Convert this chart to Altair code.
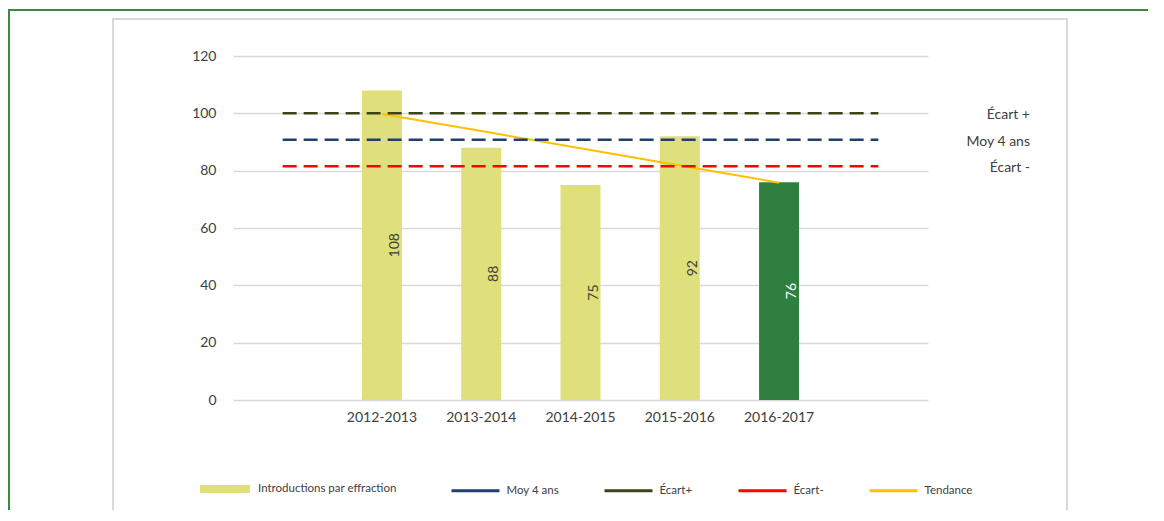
import altair as alt
import pandas as pd

# ---- data ----
categories = ["2012-2013", "2013-2014", "2014-2015", "2015-2016", "2016-2017"]
effractions = [108, 88, 75, 92, 76]
tendance = [99.8, 93.8, 87.8, 81.8, 75.8]
ref_names = ["Moy 4 ans", "Écart+", "Écart-"]
ref_values = [90.75, 100.0, 81.5]
side_labels = ["Moy 4 ans", "Écart +", "Écart -"]
y_ticks = [0, 20, 40, 60, 80, 100, 120]

edge_left, edge_right = " ", "  "
x_domain = [edge_left] + categories + [edge_right]

bar_name = "Introductions par effraction"
line_names = ["Moy 4 ans", "Écart+", "Écart-", "Tendance"]
line_colors = ["#1f3f6e", "#3a4516", "#ff0000", "#ffc000"]
bar_color = "#dfdf7b"
last_color = "#2f8040"
FONT = "Lato"
TXT = "#404040"

bars_df = pd.DataFrame({"cat": categories, "value": effractions, "series": bar_name})
ref_df = pd.DataFrame(
    [{"cat": c, "value": v, "name": n} for n, v in zip(ref_names, ref_values) for c in (edge_left, edge_right)]
)
trend_df = pd.DataFrame({"cat": categories, "value": tendance, "name": "Tendance"})
side_df = pd.DataFrame({"label": side_labels, "value": ref_values})

W, H = 695, 344
STEP = W / len(x_domain)

x_enc = alt.X(
    "cat:N",
    sort=x_domain,
    scale=alt.Scale(domain=x_domain, paddingInner=0, paddingOuter=0),
    axis=alt.Axis(title=None, ticks=False, domain=False, labelAngle=0, labelPadding=10,
                  labelFontSize=14, labelFont=FONT, labelColor=TXT, grid=False),
)
y_scale = alt.Scale(domain=[0, 120], nice=False, zero=True)
y_enc = alt.Y(
    "value:Q", scale=y_scale,
    axis=alt.Axis(title=None, values=y_ticks, ticks=False, domain=False, labelPadding=17,
                  labelFontSize=14, labelFont=FONT, labelColor=TXT,
                  gridColor="#d9d9d9", gridWidth=1.5),
)

stroke_enc = alt.Stroke(
    "name:N",
    scale=alt.Scale(domain=line_names, range=line_colors),
    legend=alt.Legend(title=None, orient="none", legendX=217, legendY=409, direction="horizontal",
                      symbolType="stroke", symbolSize=2304, symbolStrokeWidth=3, symbolDash=[1, 0],
                      labelFont=FONT, labelFontSize=11.5, labelColor=TXT, labelOffset=5.5,
                      columnPadding=39),
)

frames = alt.Chart(alt.Data(values=[{}])).mark_rect(
    fillOpacity=0, stroke="#d9d9d9", strokeWidth=2
).encode(x=alt.value(-120), x2=alt.value(834), y=alt.value(-37), y2=alt.value(480))

green_frame = alt.Chart(alt.Data(values=[{}])).mark_rect(
    fillOpacity=0, stroke="#3a8a3f", strokeWidth=2
).encode(x=alt.value(-224), x2=alt.value(1200), y=alt.value(-46), y2=alt.value(480))

bars = alt.Chart(bars_df).mark_bar(size=40).encode(
    x=x_enc,
    y=y_enc,
    fill=alt.condition(
        alt.datum.cat == categories[-1],
        alt.value(last_color),
        alt.Fill("series:N", scale=alt.Scale(domain=[bar_name], range=[bar_color]),
                 legend=alt.Legend(title=None, orient="none", legendX=-33, legendY=408,
                                   symbolType="M-1,-0.16H1V0.16H-1Z", symbolSize=2500,
                                   symbolStrokeWidth=0, labelFont=FONT, labelFontSize=11.5,
                                   labelColor=TXT, labelOffset=8)),
    ),
)

bar_labels = alt.Chart(bars_df).transform_calculate(mid="datum.value / 2").mark_text(
    angle=270, align="center", baseline="middle", font=FONT, fontSize=14
).encode(
    x=x_enc,
    y=alt.Y("mid:Q", scale=y_scale),
    text="value:Q",
    xOffset=alt.value(STEP / 2 + 13),
    color=alt.condition(alt.datum.cat == categories[-1], alt.value("#ffffff"), alt.value(TXT)),
)

ref_lines = alt.Chart(ref_df).mark_line(strokeDash=[14, 7], strokeWidth=2.5).encode(
    x=x_enc, y=alt.Y("value:Q", scale=y_scale), stroke=stroke_enc,
)

trend_line = alt.Chart(trend_df).mark_line(strokeWidth=2).encode(
    x=x_enc, y=alt.Y("value:Q", scale=y_scale), stroke=stroke_enc,
)

side_text = alt.Chart(side_df).mark_text(
    align="right", baseline="middle", font=FONT, fontSize=14, color=TXT
).encode(
    x=alt.value(797), y=alt.Y("value:Q", scale=y_scale), text="label:N", yOffset=alt.value(2),
)

chart = alt.layer(
    green_frame, frames, bars, trend_line, ref_lines, bar_labels, side_text
).properties(
    width=W, height=H,
    padding={"left": 225, "top": 48, "right": 220, "bottom": 110},
    autosize=alt.AutoSizeParams(type="none"),
    background="white",
).configure_view(stroke=None)

chart.save("out.html", embed_options={"renderer": "svg", "actions": False})
